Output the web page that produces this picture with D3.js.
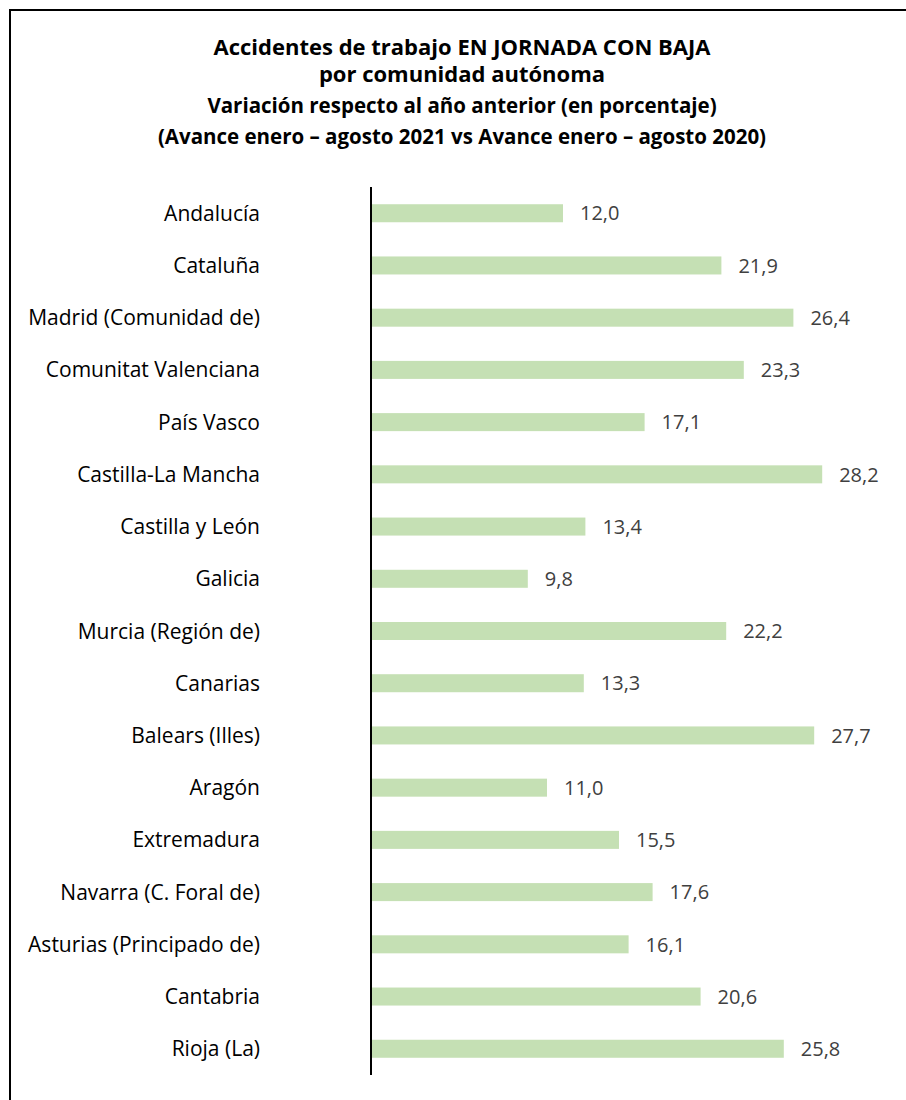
<!DOCTYPE html>
<html>
<head>
<meta charset="utf-8">
<script src="https://cdn.jsdelivr.net/npm/d3@7"></script>
<style>
  body { margin: 0; background: #fff; }
  text { font-family: "Open Sans", "Noto Sans", sans-serif; }
</style>
</head>
<body>
<svg id="viz" width="906" height="1100"></svg>
<script>
// data
var regions = ["Andalucía", "Cataluña", "Madrid (Comunidad de)", "Comunitat Valenciana",
  "País Vasco", "Castilla-La Mancha", "Castilla y León", "Galicia", "Murcia (Región de)",
  "Canarias", "Balears (Illes)", "Aragón", "Extremadura", "Navarra (C. Foral de)",
  "Asturias (Principado de)", "Cantabria", "Rioja (La)"];
var variation = [12.0, 21.9, 26.4, 23.3, 17.1, 28.2, 13.4, 9.8, 22.2, 13.3, 27.7, 11.0, 15.5, 17.6, 16.1, 20.6, 25.8];
var titleLines = ["Accidentes de trabajo EN JORNADA CON BAJA", "por comunidad autónoma"];
var subLines = ["Variación respecto al año anterior (en porcentaje)",
  "(Avance enero – agosto 2021 vs Avance enero – agosto 2020)"];

var svg = d3.select("#viz");

// outer frame (runs past the right and bottom edge)
svg.append("rect")
  .attr("x", 10).attr("y", 10)
  .attr("width", 1000).attr("height", 1200)
  .attr("fill", "none").attr("stroke", "#000").attr("stroke-width", 2);

// titles
var cx = 462;
svg.selectAll(".title").data(titleLines).enter().append("text")
  .attr("class", "title")
  .attr("x", cx).attr("y", function(d, i) { return 55 + i * 27; })
  .attr("text-anchor", "middle")
  .style("font-size", "22px").style("font-weight", "bold")
  .text(function(d) { return d; });
svg.selectAll(".sub").data(subLines).enter().append("text")
  .attr("class", "sub")
  .attr("x", cx).attr("y", function(d, i) { return 113 + i * 31; })
  .attr("text-anchor", "middle")
  .style("font-size", "20.5px").style("font-weight", "bold")
  .text(function(d) { return d; });

var x0 = 371;
var x = d3.scaleLinear().domain([0, 1]).range([x0, x0 + 16]);
var y = d3.scaleBand().domain(regions).range([187, 1075]).paddingInner(0.655).paddingOuter(0.33);

var data = regions.map(function(r, i) { return { region: r, value: variation[i] }; });

svg.selectAll(".bar").data(data).enter().append("rect")
  .attr("class", "bar")
  .attr("x", x(0))
  .attr("y", function(d) { return y(d.region); })
  .attr("width", function(d) { return x(d.value) - x(0); })
  .attr("height", y.bandwidth())
  .attr("fill", "#c5e0b4");

// value labels
svg.selectAll(".val").data(data).enter().append("text")
  .attr("class", "val")
  .attr("x", function(d) { return x(d.value) + 17; })
  .attr("y", function(d) { return y(d.region) + y.bandwidth() / 2; })
  .attr("dy", "0.36em")
  .style("font-size", "20px").style("fill", "#404040")
  .text(function(d) { return d3.format(".1f")(d.value).replace(".", ","); });

// category labels
svg.selectAll(".cat").data(data).enter().append("text")
  .attr("class", "cat")
  .attr("x", 260)
  .attr("y", function(d) { return y(d.region) + y.bandwidth() / 2; })
  .attr("dy", "0.36em")
  .attr("text-anchor", "end")
  .style("font-size", "21px").style("fill", "#000")
  .text(function(d) { return d.region; });

// vertical axis line
svg.append("line")
  .attr("x1", x0).attr("x2", x0)
  .attr("y1", 187).attr("y2", 1075)
  .attr("stroke", "#000").attr("stroke-width", 2);
</script>
</body>
</html>
